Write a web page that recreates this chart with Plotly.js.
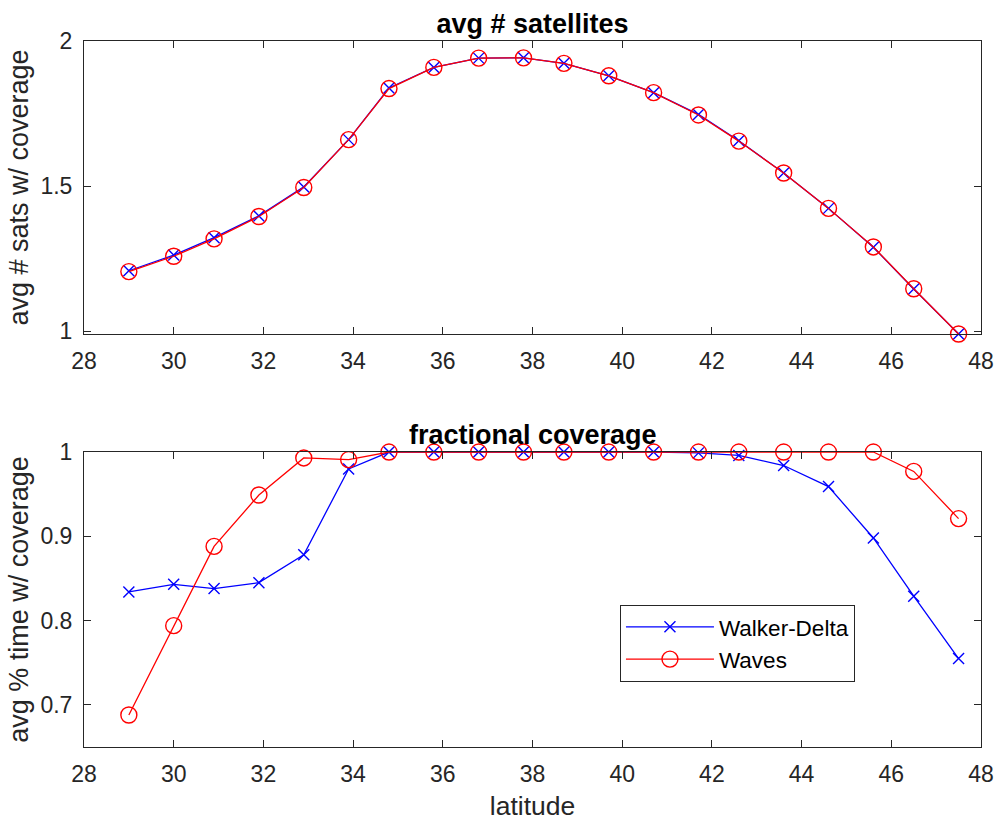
<!DOCTYPE html>
<html>
<head>
<meta charset="utf-8">
<script src="https://cdn.plot.ly/plotly-3.0.1.min.js"></script>
<style>html,body{margin:0;padding:0;background:#fff;}#chart{width:997px;height:821px;}</style>
</head>
<body>
<div id="chart"></div>
<script>
const latitude = [29, 30, 30.9, 31.9, 32.9, 33.9, 34.8, 35.8, 36.8, 37.8, 38.7, 39.7, 40.7, 41.7, 42.6, 43.6, 44.6, 45.6, 46.5, 47.5];
const satsWalker = [1.208, 1.262, 1.322, 1.397, 1.497, 1.660, 1.838, 1.909, 1.941, 1.942, 1.923, 1.880, 1.822, 1.747, 1.656, 1.545, 1.423, 1.289, 1.145, 0.990];
const satsWaves  = [1.205, 1.258, 1.318, 1.395, 1.495, 1.660, 1.836, 1.909, 1.941, 1.942, 1.923, 1.880, 1.822, 1.745, 1.655, 1.545, 1.423, 1.290, 1.146, 0.990];
const covWalker = [0.834, 0.843, 0.838, 0.845, 0.878, 0.980, 1, 1, 1, 1, 1, 1, 1, 0.999, 0.996, 0.984, 0.959, 0.898, 0.829, 0.755];
const covWaves  = [0.688, 0.794, 0.888, 0.949, 0.993, 0.991, 1, 1, 1, 1, 1, 1, 1, 1, 1, 1, 1, 1, 0.977, 0.921];
const seriesNames = ['Walker-Delta', 'Waves'];
const xTicks = [28, 30, 32, 34, 36, 38, 40, 42, 44, 46, 48];
const yTicksTop = [1, 1.5, 2];
const yTicksBottom = [0.7, 0.8, 0.9, 1];

const FONT = 'Liberation Sans, Arial, Helvetica, sans-serif';
const AX = '#262626';
const blueMarker = {symbol: 'x-thin-open', size: 11, color: '#0000ff', line: {color: '#0000ff', width: 1.4}};
const redMarker = {symbol: 'circle-open', size: 16, color: '#ff0000', line: {color: '#ff0000', width: 1.4}};

const traces = [
  {x: latitude, y: satsWalker, xaxis: 'x', yaxis: 'y', mode: 'lines+markers', name: seriesNames[0], showlegend: false,
   line: {color: '#0000ff', width: 1.3}, marker: blueMarker, cliponaxis: false},
  {x: latitude, y: satsWaves, xaxis: 'x', yaxis: 'y', mode: 'lines+markers', name: seriesNames[1], showlegend: false,
   line: {color: '#ff0000', width: 1.3}, marker: redMarker, cliponaxis: false},
  {x: latitude, y: covWalker, xaxis: 'x2', yaxis: 'y2', mode: 'lines+markers', name: seriesNames[0],
   line: {color: '#0000ff', width: 1.3}, marker: blueMarker, cliponaxis: false},
  {x: latitude, y: covWaves, xaxis: 'x2', yaxis: 'y2', mode: 'lines+markers', name: seriesNames[1],
   line: {color: '#ff0000', width: 1.3}, marker: redMarker, cliponaxis: false}
];

function xa(anchor, title) {
  const o = {anchor: anchor, range: [28, 48], tickvals: xTicks, ticks: 'inside', ticklen: 7, tickcolor: AX,
    showline: true, linecolor: AX, linewidth: 1, mirror: 'ticks', showgrid: false, zeroline: false,
    tickfont: {family: FONT, size: 23, color: AX}, ticklabelstandoff: 6};
  if (title) o.title = {text: title, font: {family: FONT, size: 26.5, color: AX}, standoff: 16};
  return o;
}
function ya(anchor, range, ticks, title, domain) {
  return {anchor: anchor, domain: domain, range: range, tickvals: ticks, ticks: 'inside', ticklen: 7, tickcolor: AX,
    showline: true, linecolor: AX, linewidth: 1, mirror: 'ticks', showgrid: false, zeroline: false,
    tickfont: {family: FONT, size: 23, color: AX}, ticklabelstandoff: 6,
    title: {text: title, font: {family: FONT, size: 27, color: AX}, standoff: 3}};
}

const layout = {
  width: 997, height: 821,
  margin: {l: 84, r: 16, t: 41, b: 74},
  paper_bgcolor: '#ffffff', plot_bgcolor: '#ffffff',
  showlegend: true,
  font: {family: FONT, color: AX},
  title: {text: '<b>avg # satellites</b>', font: {family: FONT, size: 27, color: '#000'}, xref: 'paper', x: 0.5, xanchor: 'center', y: 1 - 24/821, yanchor: 'middle'},
  xaxis: xa('y'),
  yaxis: ya('x', [0.99, 2], yTicksTop, 'avg # sats w/ coverage', [0.585, 1]),
  xaxis2: xa('y2', 'latitude'),
  yaxis2: ya('x2', [0.65, 1], yTicksBottom, 'avg % time w/ coverage', [0, 0.4178]),
  annotations: [{text: '<b>fractional coverage</b>', xref: 'paper', yref: 'paper', x: 0.5, y: 0.4415, xanchor: 'center', yanchor: 'middle', showarrow: false,
    font: {family: FONT, size: 27, color: '#000'}}],
  legend: {x: 0.5975, y: 0.2015, xanchor: 'left', yanchor: 'top', bgcolor: '#ffffff', bordercolor: AX, borderwidth: 1,
    font: {family: FONT, size: 22.5, color: '#000'}, itemwidth: 88, tracegroupgap: 0}
};

Plotly.newPlot('chart', traces, layout, {displayModeBar: false, staticPlot: true});
</script>
</body>
</html>
